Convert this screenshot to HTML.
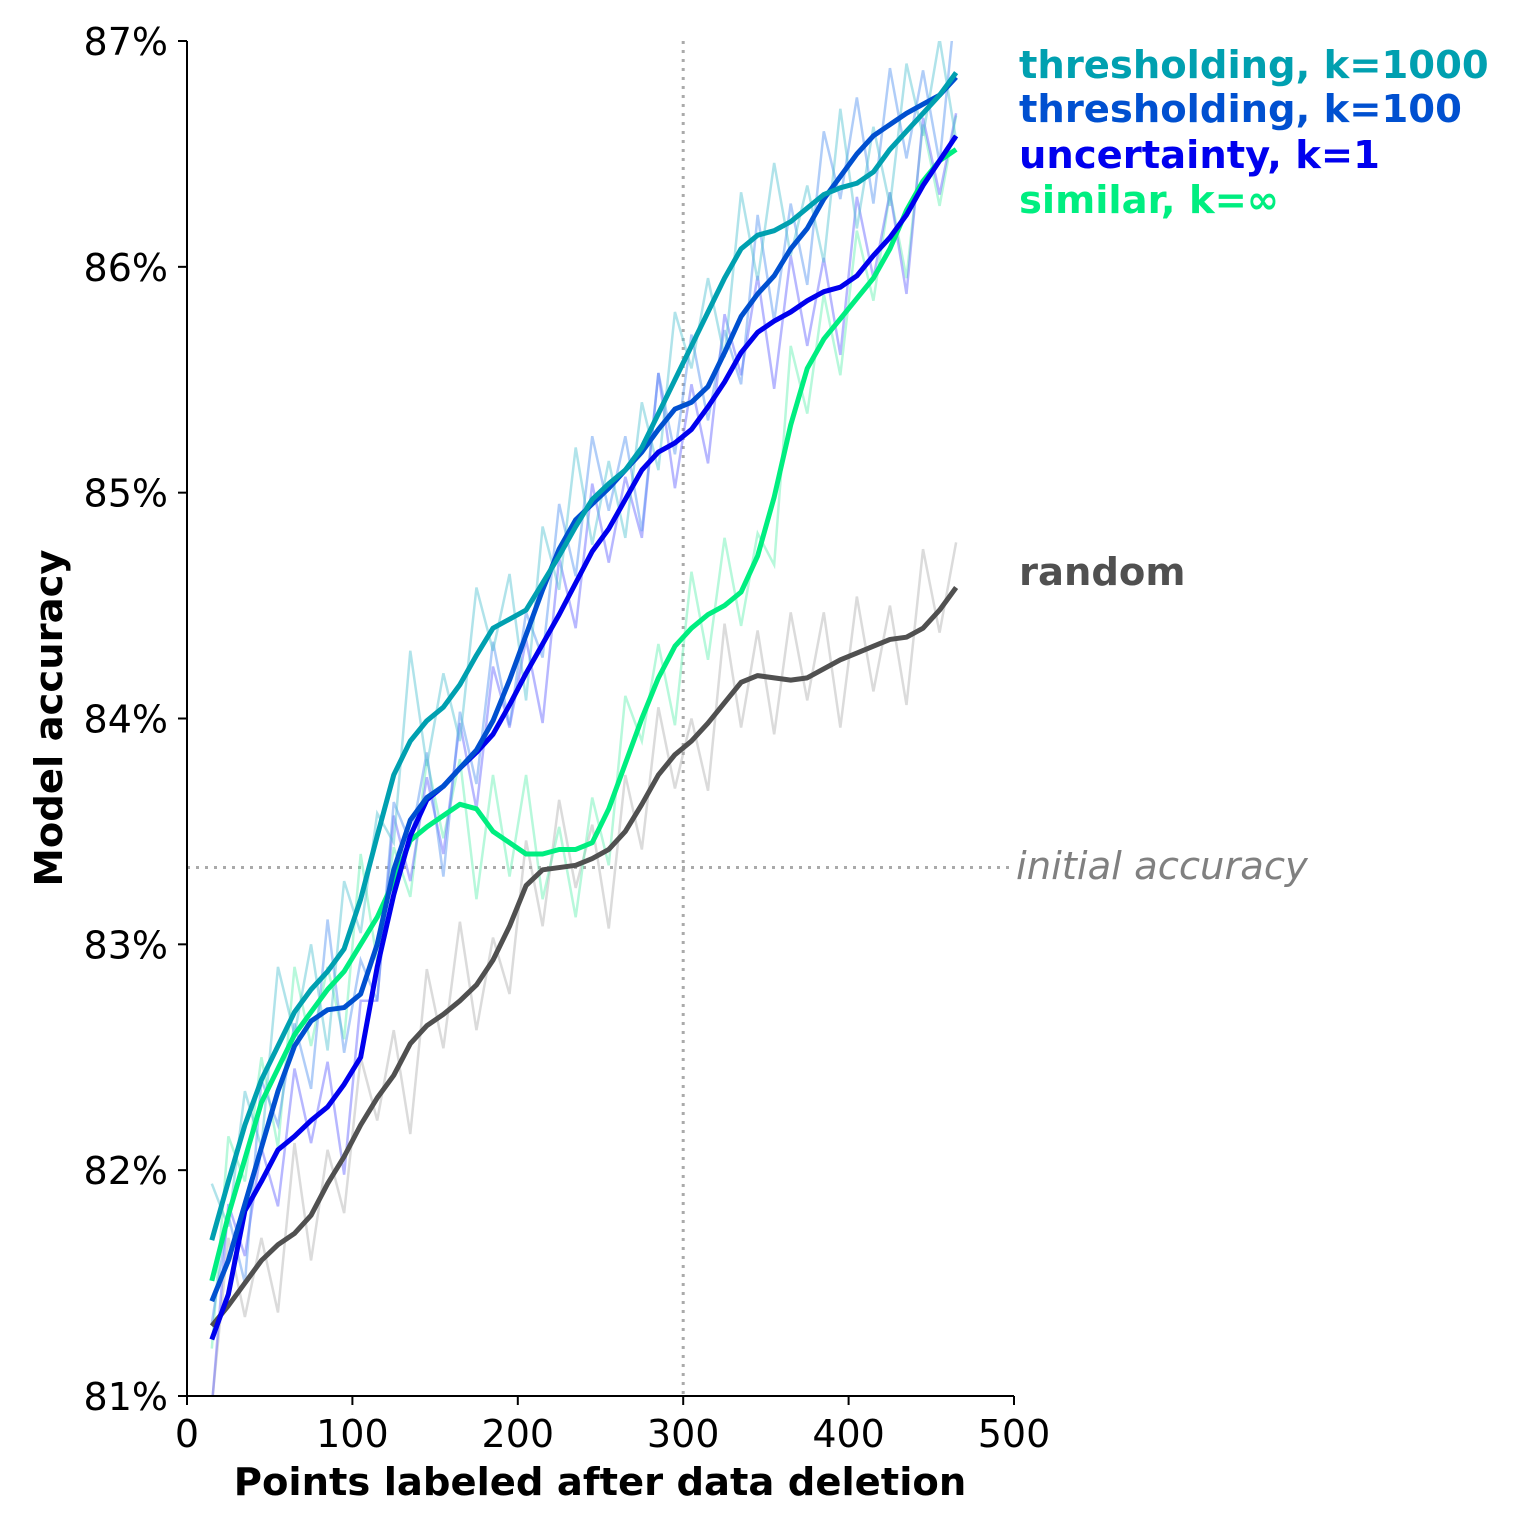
<!DOCTYPE html>
<html><head><meta charset="utf-8"><style>
body{margin:0;background:#fff}
svg{display:block}
text{font-family:"DejaVu Sans","Liberation Sans",sans-serif}
</style></head><body>
<svg id="chart" width="1524" height="1524" viewBox="0 0 1524 1524" xmlns="http://www.w3.org/2000/svg">
<defs><clipPath id="plotclip"><rect x="187" y="41" width="840" height="1355"/></clipPath></defs>
<g id="grid"></g>
<g id="raw" clip-path="url(#plotclip)"></g>
<g id="smooth" clip-path="url(#plotclip)"></g>
<g id="axes"></g>
<g id="labels"></g>
</svg>
<script>
const xs = [15,25,35,45,55,65,75,85,95,105,115,125,135,145,155,165,175,185,195,205,215,225,235,245,255,265,275,285,295,305,315,325,335,345,355,365,375,385,395,405,415,425,435,445,455,465];
const thr1000 = [81.69,81.95,82.2,82.4,82.55,82.7,82.8,82.88,82.98,83.2,83.48,83.75,83.9,83.99,84.05,84.15,84.28,84.4,84.44,84.48,84.6,84.72,84.85,84.97,85.04,85.1,85.2,85.35,85.5,85.65,85.8,85.95,86.08,86.14,86.16,86.2,86.26,86.32,86.35,86.37,86.42,86.52,86.6,86.68,86.76,86.86];
const thr100 = [81.42,81.6,81.85,82.1,82.35,82.55,82.66,82.71,82.72,82.78,83.0,83.33,83.55,83.65,83.7,83.78,83.86,83.99,84.17,84.37,84.57,84.75,84.88,84.95,85.02,85.1,85.18,85.28,85.37,85.4,85.47,85.62,85.78,85.88,85.96,86.08,86.17,86.3,86.4,86.5,86.58,86.63,86.68,86.72,86.76,86.84];
const unc1 = [81.25,81.45,81.82,81.95,82.09,82.15,82.22,82.28,82.38,82.5,82.9,83.22,83.48,83.64,83.7,83.78,83.85,83.93,84.06,84.2,84.33,84.46,84.6,84.74,84.84,84.97,85.1,85.18,85.22,85.28,85.38,85.49,85.62,85.71,85.76,85.8,85.85,85.89,85.91,85.96,86.05,86.13,86.23,86.36,86.47,86.58];
const similar = [81.51,81.8,82.05,82.3,82.45,82.6,82.7,82.8,82.88,83.0,83.12,83.28,83.46,83.52,83.57,83.62,83.6,83.5,83.45,83.4,83.4,83.42,83.42,83.45,83.6,83.8,84.0,84.18,84.32,84.4,84.46,84.5,84.56,84.72,84.98,85.3,85.55,85.68,85.77,85.86,85.95,86.08,86.25,86.38,86.47,86.52];
const random = [81.31,81.4,81.5,81.6,81.67,81.72,81.8,81.94,82.06,82.2,82.32,82.42,82.56,82.64,82.69,82.75,82.82,82.93,83.08,83.26,83.33,83.34,83.35,83.38,83.42,83.5,83.62,83.75,83.84,83.9,83.98,84.07,84.16,84.19,84.18,84.17,84.18,84.22,84.26,84.29,84.32,84.35,84.36,84.4,84.48,84.58];
const noise = [0.25,-0.2,0.15,-0.3,0.35,-0.1,0.2,-0.35,0.3,-0.15,0.1,-0.3,0.4,-0.2,0.15,-0.25,0.3,-0.1,0.2,-0.4,0.25,-0.15,0.35,-0.2,0.1,-0.3,0.2,-0.25,0.3,-0.1,0.15,-0.35,0.25,-0.2,0.3,-0.15,0.1,-0.3,0.35,-0.2,0.2,-0.25,0.3,-0.1,0.25,-0.3];
const xTicks = [0,100,200,300,400,500];
const yTicks = [81,82,83,84,85,86,87];
const initialAcc = 83.34;

const X = v => 187 + v * (1014-187)/500;
const Y = v => 1396 - (v-81) * (1396-41)/6;
const NS = "http://www.w3.org/2000/svg";
function mk(tag, attrs, parent, txt){const e=document.createElementNS(NS,tag);for(const k in attrs)e.setAttribute(k,attrs[k]);if(txt!==undefined)e.textContent=txt;parent.appendChild(e);return e;}
const grid=document.getElementById('grid'),raw=document.getElementById('raw'),sm=document.getElementById('smooth'),axes=document.getElementById('axes'),labels=document.getElementById('labels');

let gl=mk('line',{x1:X(300),x2:X(300),y1:41,y2:1396,stroke:'#aaa','stroke-width':3,'stroke-dasharray':'3,6'},grid);


let hl=mk('line',{x1:187,x2:1012,y1:Y(initialAcc),y2:Y(initialAcc),stroke:'#aaa','stroke-width':3,'stroke-dasharray':'3,6'},grid);



const series=[
 {d:random,c:'#505050',rc:'#b0b0b0',name:'random',shift:7},
 {d:similar,c:'#00ee80',rc:'#60f0b0',name:'similar',shift:3},
 {d:unc1,c:'#0000ee',rc:'#6060ff',name:'uncertainty',shift:11},
 {d:thr100,c:'#0050d0',rc:'#5090f0',name:'thresholding-100',shift:5},
 {d:thr1000,c:'#00a0b0',rc:'#50c0d0',name:'thresholding-1000',shift:0}
];
series.forEach(s=>{
 const pr=s.d.map((v,i)=>X(xs[i])+','+Y(v+noise[(i+s.shift)%noise.length])).join(' ');
 const r=mk('polyline',{points:pr,fill:'none',stroke:s.rc,'stroke-width':2.5,opacity:0.45},raw);
 
 
});
series.forEach(s=>{
 const p=s.d.map((v,i)=>X(xs[i])+','+Y(v)).join(' ');
 const l=mk('polyline',{points:p,fill:'none',stroke:s.c,'stroke-width':5,'stroke-linejoin':'round'},sm);
 
 
});

let a1=mk('line',{x1:187,x2:187,y1:41,y2:1397,stroke:'#000','stroke-width':2},axes);


let a2=mk('line',{x1:186,x2:1014,y1:1396,y2:1396,stroke:'#000','stroke-width':2},axes);


xTicks.forEach(t=>{
 mk('line',{x1:X(t),x2:X(t),y1:1396,y2:1405,stroke:'#000','stroke-width':2},axes);
 const tx=mk('text',{x:X(t),y:1447,'text-anchor':'middle','font-size':38},axes,String(t));
 
 
});
yTicks.forEach(t=>{
 mk('line',{x1:178,x2:187,y1:Y(t),y2:Y(t),stroke:'#000','stroke-width':2},axes);
 const tx=mk('text',{x:168,y:Y(t)+14,'text-anchor':'end','font-size':38},axes,t+'%');
 
 
});
</script>
<svg style="position:absolute;left:0;top:0" width="1524" height="1524">
<text x="600" y="1495" text-anchor="middle" font-size="38.5" font-weight="bold" font-family="DejaVu Sans, sans-serif">Points labeled after data deletion</text>
<text transform="translate(62,718) rotate(-90)" text-anchor="middle" font-size="38.5" font-weight="bold" font-family="DejaVu Sans, sans-serif">Model accuracy</text>
<text x="1019" y="78" font-size="38.5" font-weight="bold" fill="#00a0b0" font-family="DejaVu Sans, sans-serif">thresholding, k=1000</text>
<text x="1019" y="122" font-size="38.5" font-weight="bold" fill="#0050d0" font-family="DejaVu Sans, sans-serif">thresholding, k=100</text>
<text x="1019" y="168" font-size="38.5" font-weight="bold" fill="#0000ee" font-family="DejaVu Sans, sans-serif">uncertainty, k=1</text>
<text x="1019" y="213" font-size="38.5" font-weight="bold" fill="#00ee80" font-family="DejaVu Sans, sans-serif">similar, k=∞</text>
<text x="1019" y="585" font-size="38.5" font-weight="bold" fill="#505050" font-family="DejaVu Sans, sans-serif">random</text>
<text x="1016" y="879" font-size="38.5" font-style="italic" fill="#808080" font-family="DejaVu Sans, sans-serif">initial accuracy</text>
</svg>
</body></html>
